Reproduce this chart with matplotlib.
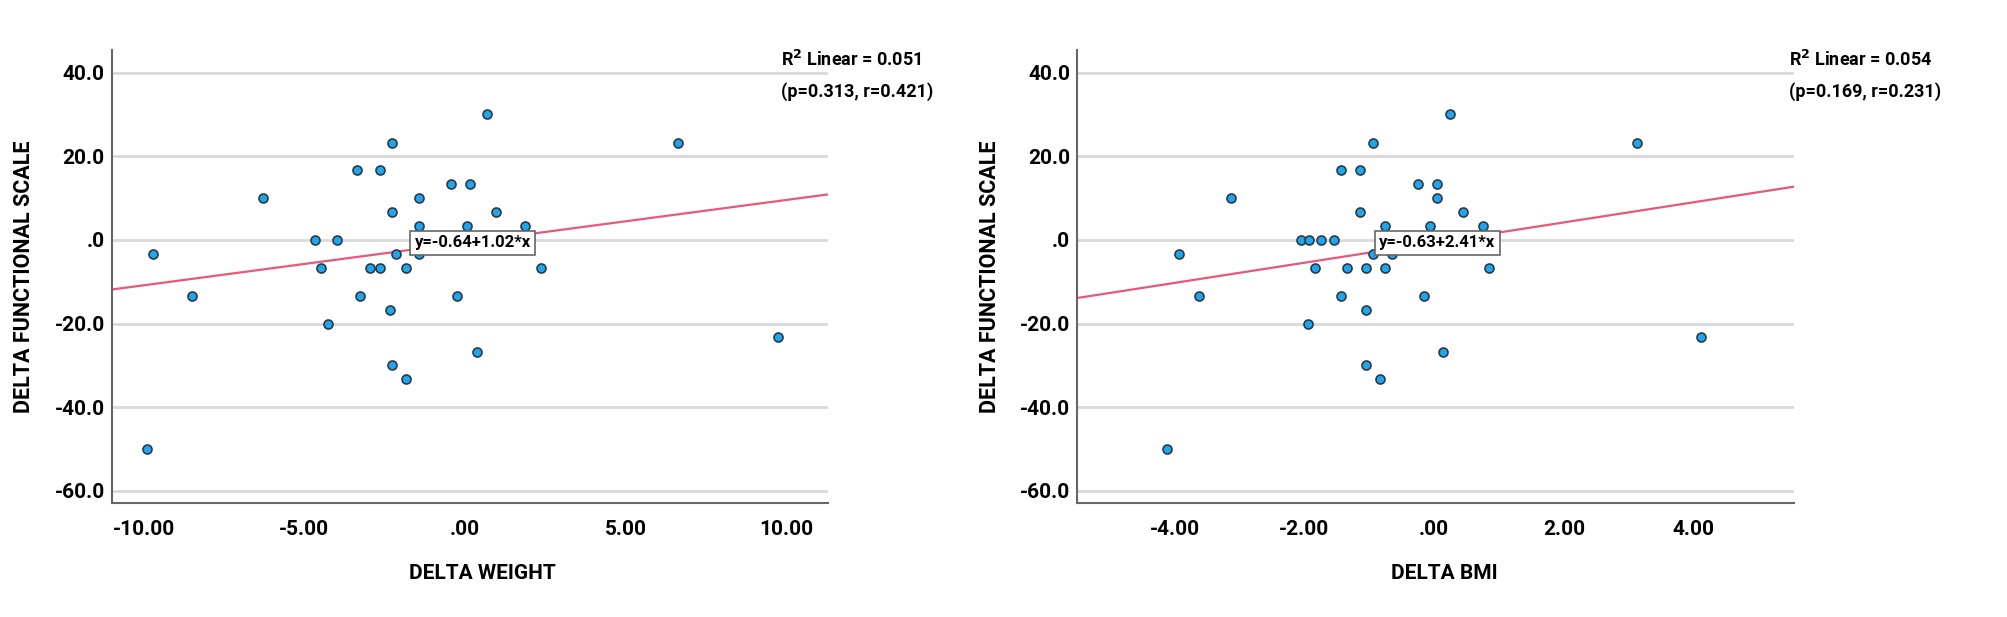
import matplotlib
matplotlib.use("Agg")
import matplotlib.pyplot as plt
from matplotlib.ticker import FuncFormatter
import numpy as np

plt.rcParams['font.family'] = ['Roboto', 'DejaVu Sans']
plt.rcParams['font.weight'] = 'bold'
plt.rcParams['axes.labelweight'] = 'bold'

# left panel: delta weight vs delta functional scale
weight_x = [0.68, -2.26, -3.37, -2.66, -0.45, 0.16, -6.29, -1.44, -2.26, 0.97,
            -1.44, 0.06, 1.88, -4.67, -3.97, -2.16, -1.44, -4.48, -2.97, -2.66,
            -1.85, 2.38, -3.26, -0.24, -2.34, -4.27, 0.37, -2.26, -1.85, -9.71,
            -8.5, -9.9, 6.63, 9.74]
weight_y = [30.0, 23.3, 16.7, 16.7, 13.3, 13.3, 10.0, 10.0, 6.7, 6.7,
            3.3, 3.3, 3.3, 0.0, 0.0, -3.3, -3.3, -6.7, -6.7, -6.7,
            -6.7, -6.7, -13.3, -13.3, -16.7, -20.0, -26.7, -30.0, -33.3, -3.3,
            -13.3, -50.0, 23.3, -23.3]

# right panel: delta BMI vs delta functional scale
bmi_x = [0.25, -0.94, -1.44, -1.14, -0.25, 0.05, -3.13, 0.05, -1.14, 0.45,
         -0.75, -0.06, 0.75, -2.05, -1.93, -1.74, -1.54, -0.94, -0.65, -1.84,
         -1.35, -1.05, -0.75, 0.84, -1.44, -0.15, -1.05, -1.94, 0.14, -1.05,
         -0.84, -3.93, -3.63, -4.12, 3.12, 4.11]
bmi_y = [30.0, 23.3, 16.7, 16.7, 13.3, 13.3, 10.0, 10.0, 6.7, 6.7,
         3.3, 3.3, 3.3, 0.0, 0.0, 0.0, 0.0, -3.3, -3.3, -6.7,
         -6.7, -6.7, -6.7, -6.7, -13.3, -13.3, -16.7, -20.0, -26.7, -30.0,
         -33.3, -3.3, -13.3, -50.0, 23.3, -23.3]

# fit lines as printed on the chart
weight_fit = (-0.64, 1.02)
bmi_fit = (-0.63, 2.41)

panels = [
    dict(x=weight_x, y=weight_y, fit=weight_fit, xlim=(-11.0, 11.3),
         xticks=[-10, -5, 0, 5, 10], xlabel="DELTA WEIGHT", eq_x=0.24,
         r2="R$^2$ Linear = 0.051", stats="(p=0.313, r=0.421)",
         rect=[0.0556, 0.1848, 0.3567, 0.734], txt_x=0.389, lab_x=0.518),
    dict(x=bmi_x, y=bmi_y, fit=bmi_fit, xlim=(-5.5, 5.55),
         xticks=[-4, -2, 0, 2, 4], xlabel="DELTA BMI", eq_x=0.05,
         r2="R$^2$ Linear = 0.054", stats="(p=0.169, r=0.231)",
         rect=[0.5365, 0.1848, 0.357, 0.734], txt_x=0.891, lab_x=0.512),
]


def fmt(v, digits):
    # SPSS style: no leading zero, plain zero without sign
    v = round(float(v), digits)
    if abs(v) < 1e-9:
        return "." + "0" * digits
    s = f"{abs(v):.{digits}f}"
    if s.startswith("0."):
        s = s[1:]
    return ("-" if v < 0 else "") + s


fig = plt.figure(figsize=(20.08, 6.17), dpi=100)

for p in panels:
    ax = fig.add_axes(p["rect"])
    ax.set_xlim(*p["xlim"])
    ax.set_ylim(-62.9, 45.4)
    ax.set_yticks([40, 20, 0, -20, -40, -60])
    ax.set_xticks(p["xticks"])
    ax.yaxis.set_major_formatter(FuncFormatter(lambda v, pos: fmt(v, 1)))
    ax.xaxis.set_major_formatter(FuncFormatter(lambda v, pos: fmt(v, 2)))
    ax.grid(axis='y', color='#d9d9d9', linewidth=2)
    ax.set_axisbelow(True)
    for s in ['top', 'right']:
        ax.spines[s].set_visible(False)
    for s in ['left', 'bottom']:
        ax.spines[s].set_color('#666666')
        ax.spines[s].set_linewidth(1.5)
    ax.tick_params(length=0, labelsize=15, pad=5)
    ax.tick_params(axis='x', pad=12)

    a, b = p["fit"]
    xs = np.array(p["xlim"])
    ax.plot(xs, a + b * xs, color='#e8587a', linewidth=1.6, zorder=2)
    ax.scatter(p["x"], p["y"], s=42, facecolor='#1ea7ec', edgecolor='#2b3a4a',
               linewidth=1.2, zorder=3)

    ax.text(p["eq_x"], -0.7, f"y={a:.2f}+{b:.2f}*x", fontsize=12,
            ha='center', va='center',
            bbox=dict(boxstyle='square,pad=0.25', facecolor='white',
                      edgecolor='#666666', linewidth=1.2), zorder=4)

    ax.set_xlabel(p["xlabel"], fontsize=15, labelpad=20)
    ax.xaxis.set_label_coords(p["lab_x"], -0.135)
    ax.set_ylabel("DELTA FUNCTIONAL SCALE", fontsize=15.5, labelpad=14)

    fig.text(p["txt_x"], 0.903, p["r2"], fontsize=13, ha='left', va='center')
    fig.text(p["txt_x"], 0.851, p["stats"], fontsize=13, ha='left', va='center')

plt.savefig("out.png", dpi=100)
